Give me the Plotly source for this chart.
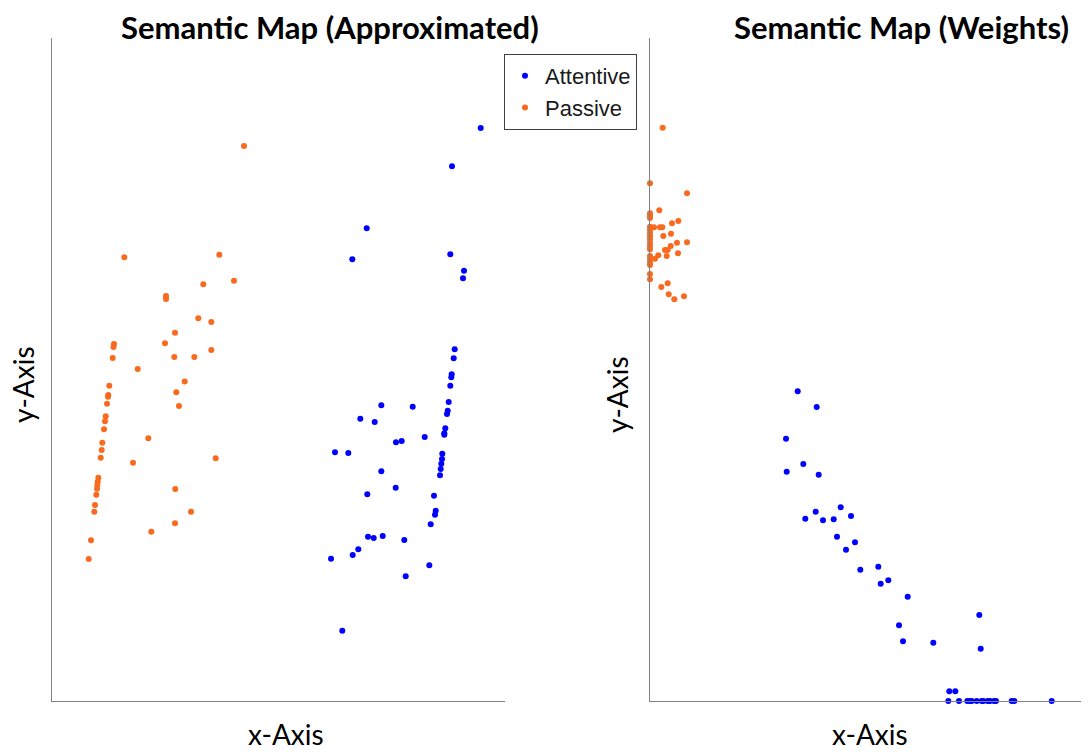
import plotly.graph_objects as go

# ---- Left panel: Semantic Map (Approximated) ----
left_passive_x = [192, 72.3, 167.3, 182, 151.3, 114, 114, 146.3, 159.3, 123, 113, 62, 61.5, 60.7, 159.3,
                  122.3, 142.3, 85.7, 132.7, 57.3, 56.3, 56, 55, 53.7, 53, 52, 50.3, 49.7, 48.7, 46.3,
                  45.7, 45.3, 45, 44.3, 43, 42.3, 39, 36.7, 124.3, 127, 96.3, 81, 163.7, 123.3, 139, 123, 99.3]
left_passive_y = [555, 443.7, 446.3, 420.3, 416.7, 405, 402, 382.7, 379, 368.3, 357.7, 357, 354, 343, 351,
                  344, 344, 332, 319.5, 315.3, 306, 304.3, 297.3, 284.7, 279.7, 271.7, 258.3, 251, 243.3, 223.3,
                  219.3, 216, 212.3, 206.3, 196, 189.3, 160.7, 142, 308.7, 295, 262.7, 238.3, 242.7, 212, 189.3, 177.7, 169.3]

left_attentive_x = [428.7, 400, 314.7, 300.3, 398.3, 412, 411, 402.7, 401.7, 399.7, 399.3, 398.3, 396.7, 395.7,
                    395, 393.3, 392.3, 392.3, 390.3, 390, 389.3, 388.7, 388, 382, 383.7, 383, 378.7, 377.3,
                    329.3, 360.7, 308.3, 322.7, 372.7, 344, 349.7, 283, 296.3, 329.3, 343.7, 315.3, 316, 321.7,
                    330.7, 352.3, 306.3, 300.7, 279, 353.7, 290.3]
left_attentive_y = [573, 534.7, 472.7, 441.7, 446.7, 430.3, 422.7, 351.7, 342.8, 326.7, 323.7, 315.3, 299, 290.3,
                    287, 272.7, 267.7, 266.3, 247.3, 242, 237.3, 232, 225.7, 205.3, 190.3, 186.3, 176.7, 135.7,
                    295.7, 294.3, 282.3, 279, 264, 258.7, 260, 248.7, 248, 229.7, 213.3, 206.7, 164.3, 163,
                    165, 161, 151.7, 146, 142.3, 124.7, 70.3]

# ---- Right panel: Semantic Map (Weights) ----
right_passive_x = [12.7, 0, 37, 9.3, 0, 0, 0, 0, 0, 0, 0, 0, 0, 0, 0, 0, 0, 0, 0, 0, 0,
                   4, 10, 12.3, 22, 28.3, 13.3, 21, 37, 27, 20.7, 15, 17.7, 28, 16.7, 8.3, 5,
                   17.7, 11.3, 18.7, 24.3, 34]
right_passive_y = [573.3, 517.7, 507.7, 490.7, 487.7, 485, 483, 474.3, 471.7, 468.3, 465, 461.7, 458.3, 455,
                   451.7, 445, 441.7, 438.3, 436, 427, 421.7,
                   473.7, 473.7, 473.7, 477.7, 480, 465, 467.3, 458.7, 458.3, 455, 451, 451, 447.7, 445, 445.7, 442.3,
                   417.7, 414, 406.7, 401.7, 404.7]

right_attentive_x = [147.7, 166.7, 136, 153.3, 136.7, 168.7, 190.7, 165.7, 201, 155.3, 173, 183.7, 187, 205, 196,
                     210.3, 228.3, 238.3, 230.7, 257.7, 249, 253, 329.3, 283.3, 330.7, 299.3, 305.3,
                     298.3, 309, 317.3, 320, 321.7, 326.7, 331.7, 333.3, 337.7, 340, 344, 346, 361.7, 364.3, 401.7]
right_attentive_y = [309.7, 294, 262.3, 237, 229.3, 226.3, 193.7, 189.3, 185, 182.3, 180.7, 181.7, 164.3, 158.7, 151.3,
                     131.3, 134.3, 120.7, 117.3, 104.3, 75.7, 59.7, 86, 58.3, 52.3, 9.7, 9.7,
                     0, 0, 0, 0, 0, 0, 0, 0, 0, 0, 0, 0, 0, 0, 0]

BLUE = "#0000FF"
ORANGE = "#FA6A1E"
MSIZE = 6

fig = go.Figure()
fig.add_trace(go.Scatter(x=left_attentive_x, y=left_attentive_y, mode="markers", name="Attentive",
                         marker=dict(color=BLUE, size=MSIZE), xaxis="x", yaxis="y", cliponaxis=False))
fig.add_trace(go.Scatter(x=left_passive_x, y=left_passive_y, mode="markers", name="Passive",
                         marker=dict(color=ORANGE, size=MSIZE), xaxis="x", yaxis="y", cliponaxis=False))
fig.add_trace(go.Scatter(x=right_passive_x, y=right_passive_y, mode="markers", name="Passive",
                         marker=dict(color=ORANGE, size=MSIZE), xaxis="x2", yaxis="y2", cliponaxis=False,
                         showlegend=False))
fig.add_trace(go.Scatter(x=right_attentive_x, y=right_attentive_y, mode="markers", name="Attentive",
                         marker=dict(color=BLUE, size=MSIZE), xaxis="x2", yaxis="y2", cliponaxis=False,
                         showlegend=False))

W, H = 1081, 745      # page is 1089x753, figure sits at an 8px body margin
OX, OY = 8, 8


def px(v):
    return (v - OX) / W


def py(v):
    return 1 - (v - OY) / H


axcommon = dict(showgrid=False, zeroline=False, showticklabels=False, ticks="",
                showline=True, linecolor="#808080", linewidth=1)

fig.update_layout(
    width=W, height=H,
    margin=dict(l=0, r=0, t=0, b=0),
    paper_bgcolor="white", plot_bgcolor="white",
    xaxis=dict(domain=[px(52), px(505)], range=[0, 453], anchor="y", **axcommon),
    yaxis=dict(domain=[py(701), py(38)], range=[0, 663], anchor="x", **axcommon),
    xaxis2=dict(domain=[px(650), 1.0], range=[0, 439], anchor="y2", **axcommon),
    yaxis2=dict(domain=[py(701), py(38)], range=[0, 663], anchor="x2", **axcommon),
    showlegend=True,
    legend=dict(x=px(504), y=py(54), xanchor="left", yanchor="top",
                bgcolor="white", bordercolor="#404040", borderwidth=1,
                font=dict(family="Liberation Sans, Arial", size=22, color="#1a1a1a"),
                itemwidth=30),
    font=dict(family="Lato, Carlito, sans-serif", color="black"),
)

title_font = dict(family="Lato, sans-serif", size=31, color="black")
label_font = dict(family="Lato, sans-serif", size=28, color="black")
annos = [
    dict(text="<b>Semantic Map (Approximated)</b>", x=px(330), y=py(27), font=title_font),
    dict(text="<b>Semantic Map (Weights)</b>", x=px(901), y=py(27), font=title_font),
    dict(text="x-Axis", x=px(286), y=py(734), font=label_font),
    dict(text="x-Axis", x=px(870), y=py(734), font=label_font),
    dict(text="y-Axis", x=px(23), y=py(385), font=label_font, textangle=-90),
    dict(text="y-Axis", x=px(617), y=py(395), font=label_font, textangle=-90),
]
for a in annos:
    fig.add_annotation(xref="paper", yref="paper", xanchor="center", yanchor="middle",
                       showarrow=False, **a)

fig.write_html("out.html")
